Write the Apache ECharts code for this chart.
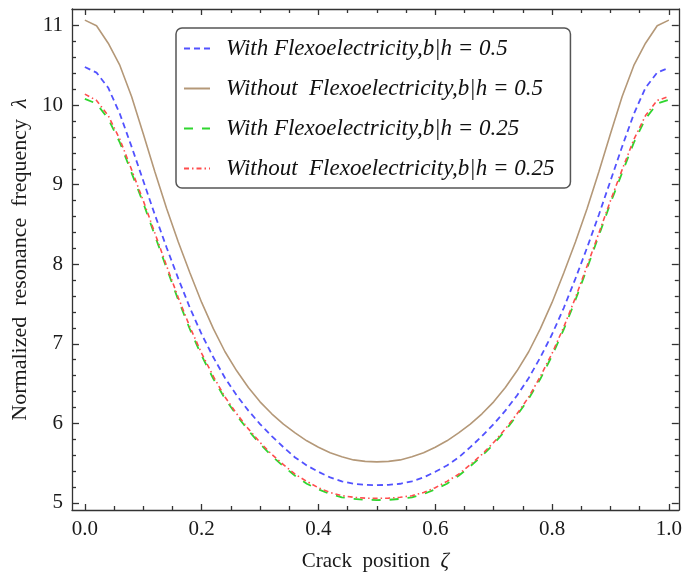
<!DOCTYPE html>
<html>
<head>
<meta charset="utf-8">
<script src="https://cdn.jsdelivr.net/npm/echarts@6/dist/echarts.min.js"></script>
<style>
  html, body { margin: 0; padding: 0; background: #fff; }
  #echart { width: 685px; height: 577px; }
</style>
</head>
<body>
<div id="echart"></div>
<script>
// crack position zeta, 0 .. 1
const zeta = [
  0.00, 0.02, 0.04, 0.06, 0.08, 0.10, 0.12, 0.14, 0.16, 0.18,
  0.20, 0.22, 0.24, 0.26, 0.28, 0.30, 0.32, 0.34, 0.36, 0.38,
  0.40, 0.42, 0.44, 0.46, 0.48, 0.50, 0.52, 0.54, 0.56, 0.58,
  0.60, 0.62, 0.64, 0.66, 0.68, 0.70, 0.72, 0.74, 0.76, 0.78,
  0.80, 0.82, 0.84, 0.86, 0.88, 0.90, 0.92, 0.94, 0.96, 0.98, 1.00
]
// with flexoelectricity, b/h = 0.5
const withFlexo05 = [
  10.48, 10.41, 10.22, 9.89, 9.48, 9.05, 8.62, 8.21, 7.82, 7.45,
  7.12, 6.83, 6.57, 6.35, 6.16, 5.99, 5.84, 5.70, 5.57, 5.47,
  5.39, 5.32, 5.27, 5.24, 5.226, 5.222, 5.226, 5.24, 5.27, 5.32,
  5.39, 5.47, 5.57, 5.70, 5.84, 5.99, 6.16, 6.35, 6.57, 6.83,
  7.12, 7.45, 7.82, 8.21, 8.62, 9.05, 9.48, 9.89, 10.22, 10.41, 10.47
]
// without flexoelectricity, b/h = 0.5
const withoutFlexo05 = [
  11.07, 11.00, 10.78, 10.50, 10.11, 9.64, 9.16, 8.70, 8.28, 7.89,
  7.52, 7.19, 6.90, 6.66, 6.45, 6.27, 6.12, 5.99, 5.88, 5.78,
  5.70, 5.63, 5.58, 5.54, 5.522, 5.515, 5.522, 5.54, 5.58, 5.63,
  5.70, 5.78, 5.88, 5.99, 6.12, 6.27, 6.45, 6.66, 6.90, 7.19,
  7.52, 7.89, 8.28, 8.70, 9.16, 9.64, 10.11, 10.50, 10.78, 11.00, 11.07
]
// with flexoelectricity, b/h = 0.25
const withFlexo025 = [
  10.08, 10.02, 9.83, 9.53, 9.15, 8.77, 8.36, 7.95, 7.55, 7.18,
  6.85, 6.56, 6.31, 6.10, 5.91, 5.74, 5.59, 5.46, 5.34, 5.24,
  5.17, 5.11, 5.07, 5.05, 5.038, 5.035, 5.038, 5.05, 5.07, 5.11,
  5.17, 5.24, 5.34, 5.46, 5.59, 5.74, 5.91, 6.10, 6.31, 6.56,
  6.85, 7.18, 7.55, 7.95, 8.36, 8.77, 9.15, 9.53, 9.83, 10.02, 10.07
]
// without flexoelectricity, b/h = 0.25
const withoutFlexo025 = [
  10.14, 10.06, 9.87, 9.57, 9.19, 8.80, 8.39, 7.98, 7.58, 7.21,
  6.88, 6.59, 6.33, 6.12, 5.93, 5.76, 5.61, 5.48, 5.36, 5.27,
  5.19, 5.13, 5.09, 5.07, 5.059, 5.056, 5.059, 5.07, 5.09, 5.13,
  5.19, 5.27, 5.36, 5.48, 5.61, 5.76, 5.93, 6.12, 6.33, 6.59,
  6.88, 7.21, 7.58, 7.98, 8.39, 8.80, 9.19, 9.57, 9.87, 10.06, 10.11
]
const seriesNames = [
  'With Flexoelectricity,b|h = 0.5',
  'Without  Flexoelectricity,b|h = 0.5',
  'With Flexoelectricity,b|h = 0.25',
  'Without  Flexoelectricity,b|h = 0.25'
]
const xMajor = [0, 0.2, 0.4, 0.6, 0.8, 1.0]
const xMinor = [0.05, 0.1, 0.15, 0.25, 0.3, 0.35, 0.45, 0.5, 0.55, 0.65, 0.7, 0.75, 0.85, 0.9, 0.95]
const yMajor = [5, 6, 7, 8, 9, 10, 11]
const yMinor = [5.2, 5.4, 5.6, 5.8, 6.2, 6.4, 6.6, 6.8, 7.2, 7.4, 7.6, 7.8,
  8.2, 8.4, 8.6, 8.8, 9.2, 9.4, 9.6, 9.8, 10.2, 10.4, 10.6, 10.8]

const serif = 'Liberation Serif'
const frameLine = { color: '#333', width: 1.3 }

function pairs(ys) {
  return zeta.map((x, i) => [x, ys[i]])
}

function makeAxis(kind, position, ticks, len, withLine, withLabel) {
  const isX = kind === 'x'
  return {
    type: 'value',
    position: position,
    min: isX ? -0.022 : 4.91,
    max: isX ? 1.017 : 11.21,
    axisLine: { show: withLine, onZero: false, lineStyle: frameLine },
    axisTick: { show: true, inside: true, length: len, customValues: ticks, lineStyle: frameLine },
    axisLabel: {
      show: withLabel,
      customValues: ticks,
      formatter: (v) => (isX ? v.toFixed(1) : String(v)),
      fontFamily: serif,
      fontSize: 21,
      color: '#1a1a1a',
      margin: 9
    },
    splitLine: { show: false }
  }
}

function nameStyle(size) {
  return {
    rich: {
      a: { fontFamily: serif, fontSize: size, color: '#1a1a1a' },
      b: { fontFamily: serif, fontSize: size, fontStyle: 'italic', color: '#1a1a1a' }
    }
  }
}

function getOptions() {
  const xBottom = makeAxis('x', 'bottom', xMajor, 6, true, true)
  xBottom.name = '{a|Crack  position  }{b|ζ}'
  xBottom.nameLocation = 'middle'
  xBottom.nameGap = 41
  xBottom.nameTextStyle = nameStyle(21)
  const yLeft = makeAxis('y', 'left', yMajor, 7, true, true)
  yLeft.name = '{a|Normalized  resonance  frequency  }{b|λ}'
  yLeft.nameLocation = 'middle'
  yLeft.nameGap = 40
  yLeft.nameTextStyle = nameStyle(22)
  return {
    animation: false,
    backgroundColor: '#fff',
    grid: { left: 72, right: 4, top: 9, bottom: 66 },
    legend: {
      orient: 'vertical',
      left: 176,
      top: 28,
      data: seriesNames,
      itemWidth: 26,
      itemHeight: 14,
      itemGap: 17,
      padding: [9, 16, 8, 7],
      borderColor: '#555',
      borderWidth: 1.5,
      borderRadius: 6,
      backgroundColor: '#fff',
      itemStyle: { color: 'transparent', borderColor: 'transparent', borderWidth: 0 },
      textStyle: {
        fontFamily: serif,
        fontStyle: 'italic',
        fontSize: 23,
        lineHeight: 22,
        color: '#111',
        padding: [0, 0, 0, 11]
      }
    },
    xAxis: [
      xBottom,
      makeAxis('x', 'bottom', xMinor, 4, false, false),
      makeAxis('x', 'top', xMajor, 6, true, false),
      makeAxis('x', 'top', xMinor, 4, false, false)
    ],
    yAxis: [
      yLeft,
      makeAxis('y', 'left', yMinor, 4, false, false),
      makeAxis('y', 'right', yMajor, 7, true, false),
      makeAxis('y', 'right', yMinor, 4, false, false)
    ],
    series: [
      {
        name: seriesNames[0],
        type: 'line',
        data: pairs(withFlexo05),
        symbol: 'none',
        lineStyle: { color: '#5252ff', width: 1.8, type: [6, 4] },
        itemStyle: { color: '#5252ff' }
      },
      {
        name: seriesNames[1],
        type: 'line',
        data: pairs(withoutFlexo05),
        symbol: 'none',
        lineStyle: { color: '#b49878', width: 1.6, type: 'solid' },
        itemStyle: { color: '#b49878' }
      },
      {
        name: seriesNames[2],
        type: 'line',
        data: pairs(withFlexo025),
        symbol: 'none',
        lineStyle: { color: '#2fd62f', width: 1.8, type: [9, 9] },
        itemStyle: { color: '#2fd62f' }
      },
      {
        name: seriesNames[3],
        type: 'line',
        data: pairs(withoutFlexo025),
        symbol: 'none',
        lineStyle: { color: '#ff4d4d', width: 1.6, type: [5, 3, 1.5, 3] },
        itemStyle: { color: '#ff4d4d' }
      }
    ]
  }
}

const chart = echarts.init(document.getElementById('echart'))
chart.setOption(getOptions())
</script>
</body>
</html>
